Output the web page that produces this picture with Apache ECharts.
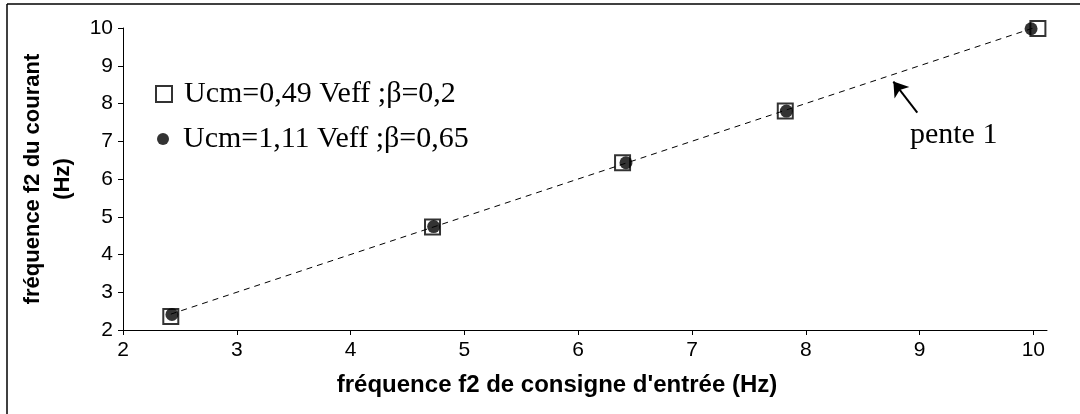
<!DOCTYPE html>
<html>
<head>
<meta charset="utf-8">
<script src="https://cdn.jsdelivr.net/npm/echarts@6/dist/echarts.min.js"></script>
<style>
  html, body { margin: 0; padding: 0; background: #fff; }
  #chart { width: 1080px; height: 414px; }
</style>
</head>
<body>
<div id="chart"></div>
<script>
const chart = echarts.init(document.getElementById("chart"));

// Ucm=0,49 Veff ; beta=0,2  (carres)
const sqX = [2.42, 4.72, 6.39, 7.82, 10.04];
const sqY = [2.36, 4.73, 6.43, 7.80, 9.99];
// Ucm=1,11 Veff ; beta=0,65  (ronds)
const ciX = [2.43, 4.73, 6.42, 7.83, 9.98];
const ciY = [2.41, 4.74, 6.43, 7.80, 9.98];
// droite de pente 1
const trendX = [2.42, 10.0];
const trendY = [2.42, 10.0];

const ticks = [2, 3, 4, 5, 6, 7, 8, 9, 10];

const nameSq = "Ucm=0,49 Veff ;β=0,2";
const nameCi = "Ucm=1,11 Veff ;β=0,65";

const zip = (xs, ys) => xs.map((x, i) => [x, ys[i]]);

const serif = { fontFamily: "Liberation Serif", fontSize: 30, color: "#000" };

const border = [
  { type: "line", shape: { x1: 7, y1: 4, x2: 1080, y2: 4 }, style: { stroke: "#000", lineWidth: 1.5 } },
  { type: "line", shape: { x1: 7, y1: 4, x2: 7, y2: 414 }, style: { stroke: "#000", lineWidth: 1.5 } },
];

const option = {
  animation: false,
  grid: { left: 123, right: 33, top: 28, bottom: 84 },
  legend: [
    {
      data: [{ name: nameSq, icon: "rect" }],
      left: 155, top: 79, padding: 0,
      itemWidth: 16, itemHeight: 16,
      textStyle: Object.assign({}, serif, { padding: [0, 0, 0, 7] }),
    },
    {
      data: [{ name: nameCi, icon: "circle" }],
      left: 157, top: 124, padding: 0,
      itemWidth: 12, itemHeight: 12,
      textStyle: Object.assign({}, serif, { padding: [0, 0, 0, 9] }),
    },
  ],
  xAxis: {
    type: "value", min: 2, max: 10.12, interval: 1,
    splitLine: { show: false },
    axisLine: { lineStyle: { color: "#000", width: 1 } },
    axisTick: { show: true, length: 5, customValues: ticks, lineStyle: { color: "#000" } },
    axisLabel: { customValues: ticks, color: "#000", fontFamily: "Liberation Sans", fontSize: 21, margin: 10 },
    name: "fréquence f2 de consigne d'entrée (Hz)",
    nameLocation: "middle", nameGap: 43,
    nameTextStyle: { fontFamily: "Liberation Sans", fontWeight: "bold", fontSize: 24, color: "#000", padding: [0, 56, 0, 0] },
  },
  yAxis: {
    type: "value", min: 2, max: 10, interval: 1,
    splitLine: { show: false },
    axisLine: { show: true, lineStyle: { color: "#000", width: 1 } },
    axisTick: { show: true, length: 5, lineStyle: { color: "#000" } },
    axisLabel: { color: "#000", fontFamily: "Liberation Sans", fontSize: 21, margin: 10 },
    name: "fréquence f2 du courant\n(Hz)",
    nameLocation: "middle", nameGap: 45, nameRotate: 90,
    nameTextStyle: { fontFamily: "Liberation Sans", fontWeight: "bold", fontSize: 22, lineHeight: 30, color: "#000" },
  },
  series: [
    {
      name: nameSq, type: "scatter", data: zip(sqX, sqY),
      symbol: "rect", symbolSize: 15, z: 2,
      itemStyle: { color: "#fff", borderColor: "#000", borderWidth: 2 },
    },
    {
      name: nameCi, type: "scatter", data: zip(ciX, ciY),
      symbol: "circle", symbolSize: 13, z: 3,
      itemStyle: { color: "#000" },
    },
    {
      name: "pente", type: "line", data: zip(trendX, trendY),
      symbol: "none", z: 4, silent: true,
      lineStyle: { color: "#000", width: 1, type: [6, 5] },
      markLine: {
        silent: true, symbolSize: 14,
        lineStyle: { color: "#000", width: 2, type: "solid" },
        label: { show: false },
        data: [[
          { coord: [8.98, 7.76], symbol: "none" },
          { coord: [8.77, 8.58], symbol: "arrow" },
        ]],
      },
    },
  ],
  graphic: border,
};

chart.setOption(option);

// etiquette "pente 1" placee en coordonnees de donnees
const p = chart.convertToPixel({ gridIndex: 0 }, [9.30, 7.17]);
chart.setOption({
  graphic: border.concat([
    {
      type: "text", x: p[0], y: p[1],
      style: { text: "pente 1", fontFamily: "Liberation Serif", fontSize: 30, fill: "#000", align: "center", verticalAlign: "middle" },
    },
  ]),
});
</script>
</body>
</html>
